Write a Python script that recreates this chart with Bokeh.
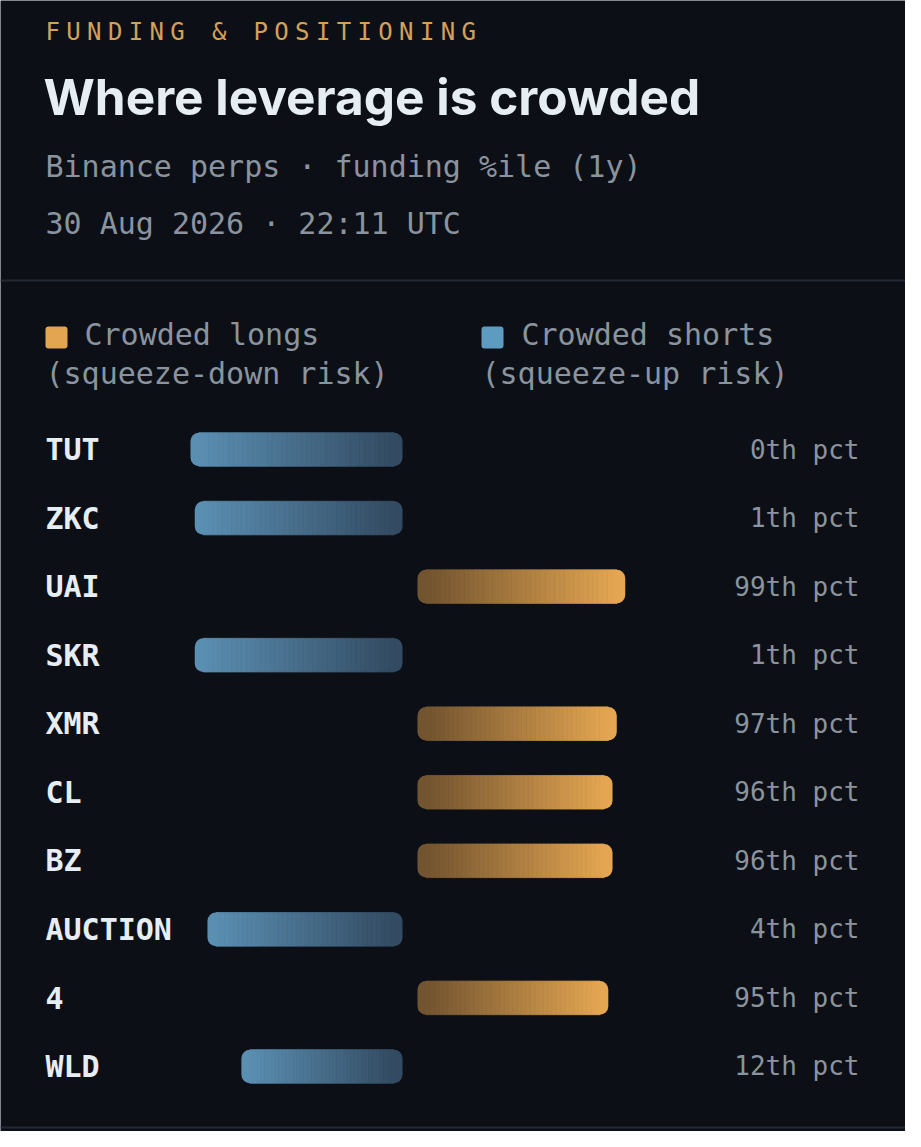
from bokeh.plotting import figure
from bokeh.models import Range1d, ColumnDataSource
from bokeh.core.properties import value
from bokeh.embed import file_html
from bokeh.resources import INLINE

# ---------------- data ----------------
tickers = ["TUT", "ZKC", "UAI", "SKR", "XMR", "CL", "BZ", "AUCTION", "4", "WLD"]
pct = [0, 1, 99, 1, 97, 96, 96, 4, 95, 12]
pct_labels = [f"{v}th pct" for v in pct]

kicker = "FUNDING & POSITIONING"
title_text = "Where leverage is crowded"
subtitle = "Binance perps · funding %ile (1y)"
timestamp = "30 Aug 2026 · 22:11 UTC"
legend_long = ["Crowded longs", "(squeeze-down risk)"]
legend_short = ["Crowded shorts", "(squeeze-up risk)"]

# ---------------- style ----------------
BG = "#0c1016"
SEP = "#222932"
WHITE = "#e6edf3"
GREY = "#8b949e"
KICK = "#d4a05a"
ORANGE = "#e3a54f"
BLUE = "#5e9bc0"
BLUE_OUT, BLUE_IN = (0x5b, 0x8f, 0xb2), (0x33, 0x4b, 0x62)
ORG_OUT, ORG_IN = (0xe4, 0xa6, 0x52), (0x72, 0x54, 0x30)
MONO = value("DejaVu Sans Mono")

W, H = 905, 1131
PX = 4.24          # px per percentile point
CENTER = 417.5     # px, centre of the diverging axis
ROW0, ROW_STEP = 457, 68.55

p = figure(width=W, height=H, x_range=Range1d(8, 913), y_range=Range1d(1139, 8),
           output_backend="svg", toolbar_location=None,
           x_axis_location=None, y_axis_location=None,
           min_border=0, min_border_left=0, min_border_right=0,
           min_border_top=0, min_border_bottom=0,
           background_fill_color=BG, border_fill_color=BG, outline_line_color=None)
p.grid.visible = False

p.extra_x_ranges = {"dev": Range1d((8 - CENTER) / PX, (913 - CENTER) / PX)}
p.extra_y_ranges = {"rows": Range1d((1139 - ROW0) / ROW_STEP, (8 - ROW0) / ROW_STEP)}

# ---------------- header ----------------
kx = [53 + i * 20.8 for i, c in enumerate(kicker) if c != " "]
kc = [c for c in kicker if c != " "]
p.text(x=kx, y=[39] * len(kc), text=kc, text_font=MONO, text_font_size="24px",
       text_color=KICK, text_baseline="middle", text_align="left")

p.text(x=[51], y=[104], text=[title_text], text_font=value("Inter"), text_font_size="49.5px",
       text_font_style="bold", text_color=WHITE, text_baseline="middle")

p.text(x=[53, 53], y=[174, 231], text=[subtitle, timestamp], text_font=MONO,
       text_font_size="30px", text_color=GREY, text_baseline="middle")

p.segment(x0=[8, 8], x1=[913, 913], y0=[288, 1135], y1=[288, 1135],
          line_color=SEP, line_width=2)

# ---------------- legend ----------------
p.quad(left=[53, 489], right=[75, 511], top=[334, 334], bottom=[356, 356],
       fill_color=[ORANGE, BLUE], line_color=None, border_radius=3)
p.text(x=[92, 53, 529, 489], y=[342, 381, 342, 381],
       text=[legend_long[0], legend_long[1], legend_short[0], legend_short[1]],
       text_font=MONO, text_font_size="30px", text_color=GREY, text_baseline="middle")

# ---------------- bars (gradient) ----------------
def mix(a, b, t):
    return "#%02x%02x%02x" % tuple(int(round(a[k] + (b[k] - a[k]) * t)) for k in range(3))

GAP = 7.5 / PX
R = 8.5 / PX
N = 40
cap = dict(left=[], right=[], y=[], color=[])
sl = dict(left=[], right=[], y=[], color=[])
for i, v in enumerate(pct):
    d = v - 50
    if d < 0:
        inner, outer, sgn = -GAP, -GAP + d, -1
        cout, cin = BLUE_OUT, BLUE_IN
    else:
        inner, outer, sgn = GAP, GAP + d, 1
        cout, cin = ORG_OUT, ORG_IN
    # rounded end caps
    a0, a1 = outer, outer - sgn * 2 * R
    cap["left"].append(min(a0, a1)); cap["right"].append(max(a0, a1))
    cap["y"].append(i); cap["color"].append(mix(cout, cin, 0.0))
    b0, b1 = inner, inner + sgn * 2 * R
    cap["left"].append(min(b0, b1)); cap["right"].append(max(b0, b1))
    cap["y"].append(i); cap["color"].append(mix(cout, cin, 1.0))
    # interior gradient slices
    s0 = outer - sgn * R
    s1 = inner + sgn * R
    step = (s1 - s0) / N
    for k in range(N):
        xa = s0 + step * k
        xb = s0 + step * (k + 1)
        t = (k + 0.5) / N
        sl["left"].append(min(xa, xb)); sl["right"].append(max(xa, xb))
        sl["y"].append(i); sl["color"].append(mix(cout, cin, t))

BAR_H = 0.49
p.hbar(y="y", left="left", right="right", height=BAR_H, fill_color="color",
       line_color=None, border_radius=9, source=ColumnDataSource(cap),
       x_range_name="dev", y_range_name="rows")
p.hbar(y="y", left="left", right="right", height=BAR_H, fill_color="color",
       line_color="color", line_width=0.8, source=ColumnDataSource(sl),
       x_range_name="dev", y_range_name="rows")

# ---------------- row labels ----------------
rows = list(range(len(tickers)))
p.text(x=[53] * len(tickers), y=rows, text=tickers, text_font=MONO, text_font_size="30px",
       text_font_style="bold", text_color=WHITE, text_baseline="middle",
       y_range_name="rows")
p.text(x=[867] * len(pct_labels), y=rows, text=pct_labels, text_font=MONO,
       text_font_size="26px", text_color=GREY, text_baseline="middle", text_align="right",
       y_range_name="rows")

open("out.html", "w").write(file_html(p, INLINE))
